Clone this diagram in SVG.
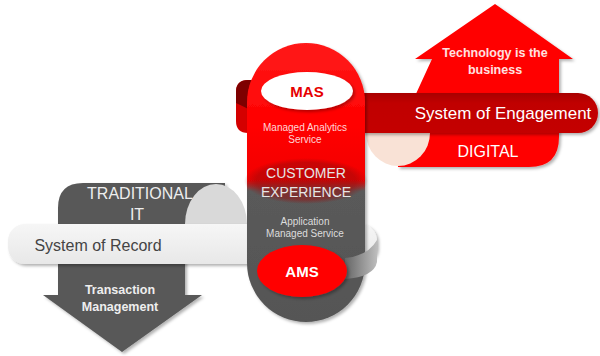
<svg xmlns="http://www.w3.org/2000/svg" width="600" height="356" viewBox="0 0 600 356">
<defs>
<filter id="sh" x="-10%" y="-10%" width="130%" height="130%">
<feDropShadow dx="2" dy="2" stdDeviation="1.8" flood-color="#000" flood-opacity="0.3"/>
</filter>
<linearGradient id="pillG" x1="0" y1="43" x2="0" y2="322" gradientUnits="userSpaceOnUse">
<stop offset="0" stop-color="#ff1a1a"/>
<stop offset="0.3" stop-color="#ff0000"/>
<stop offset="0.49" stop-color="#f20000"/>
<stop offset="0.53" stop-color="#5a5a5a"/>
<stop offset="1" stop-color="#555555"/>
</linearGradient>
<radialGradient id="ceG" cx="0.5" cy="0.5" r="0.5">
<stop offset="0" stop-color="#9a0a0a" stop-opacity="0.55"/>
<stop offset="0.8" stop-color="#9a0a0a" stop-opacity="0.5"/>
<stop offset="1" stop-color="#9a0a0a" stop-opacity="0"/>
</radialGradient>
<linearGradient id="soeG" x1="0" y1="0" x2="0" y2="1">
<stop offset="0" stop-color="#a80000"/>
<stop offset="0.25" stop-color="#c00000"/>
<stop offset="1" stop-color="#c40000"/>
</linearGradient>
<linearGradient id="sorG" x1="0" y1="0" x2="0" y2="1">
<stop offset="0" stop-color="#f6f6f6"/>
<stop offset="1" stop-color="#e8e8e8"/>
</linearGradient>
<linearGradient id="curlG" x1="0" y1="0" x2="1" y2="0">
<stop offset="0" stop-color="#666"/>
<stop offset="0.6" stop-color="#9a9a9a"/>
<stop offset="1" stop-color="#bdbdbd"/>
</linearGradient>
<style>
text{font-family:"Liberation Sans",Arial,sans-serif;text-anchor:middle}
.w{fill:#ffffff}
.pk{fill:#ffe0e0}
.lg{fill:#e6e6e6}
</style>
</defs>

<g id="digital">
<path d="M432 59 L415 59 L495 4 L573 59 L559 59 L559 137 Q559 167 529 167 L398 167 L398 133 Z" fill="#ff0000" filter="url(#sh)"/>
<path d="M366 133 L430 133 A32 33 0 0 1 366 133 Z" fill="#f9e2d6"/>
<rect id="soe-band" x="300" y="93" width="298" height="40" rx="20" fill="url(#soeG)" filter="url(#sh)"/>
<text x="495" y="57" font-size="12.5" font-weight="bold" class="pk">Technology is the</text>
<text x="495" y="74" font-size="12.5" font-weight="bold" class="pk">business</text>
<text x="503" y="119" font-size="17" class="w">System of Engagement</text>
<text x="488" y="157" font-size="16" class="w">DIGITAL</text>
</g>

<g id="traditional">
<path d="M58 208 Q58 183 83 183 L225 183 L225 230 L185 230 L185 295 L202 295 L122 352 L43 295 L58 295 Z" fill="#595959" filter="url(#sh)"/>
<path d="M185 224 A31 40 0 0 1 247 224 Z" fill="#d9d9d9"/>
<rect id="sor-band" x="8" y="224" width="369" height="40" rx="17" fill="url(#sorG)" filter="url(#sh)"/>
<text x="140" y="199" font-size="16" fill="#eeeeee">TRADITIONAL</text>
<text x="137" y="220" font-size="16" fill="#eeeeee">IT</text>
<text x="98" y="251" font-size="16" fill="#444444">System of Record</text>
<text x="120" y="294" font-size="12.5" font-weight="bold" fill="#eeeeee">Transaction</text>
<text x="120" y="311" font-size="12.5" font-weight="bold" fill="#eeeeee">Management</text>
</g>

<g id="red-curl">
<path d="M262 80 L248 80 Q236 80 236 92 L236 121 Q236 133 248 133 L262 133 Z" fill="#d40000"/>
<path d="M262 80 L248 80 Q236 80 236 92 L236 103 Q248 108 262 118 Z" fill="#7d0000"/>
</g>

<g id="pill">
<path d="M247 102 A59 59 0 0 1 365 102 L365 263 A59 59 0 0 1 247 263 Z" fill="url(#pillG)" filter="url(#sh)"/>
</g>

<g id="customer-experience">
<ellipse cx="306" cy="181" rx="62" ry="23" fill="url(#ceG)"/>
<text x="306" y="178" font-size="14" class="lg">CUSTOMER</text>
<text x="306" y="197" font-size="14" class="lg">EXPERIENCE</text>
</g>

<g id="mas">
<ellipse cx="307" cy="91" rx="46" ry="19" fill="#ffffff" filter="url(#sh)"/>
<text x="307" y="97" font-size="15" font-weight="bold" fill="#e60000">MAS</text>
<text x="305" y="131" font-size="10" fill="#ffd6d6">Managed Analytics</text>
<text x="305" y="143" font-size="10" fill="#ffd6d6">Service</text>
</g>

<g id="ams">
<path d="M345 258 Q368 256 377 240 L377 262 Q374 277 345 279 Z" fill="url(#curlG)"/>
<ellipse cx="302" cy="271" rx="45" ry="26" fill="#ff0000" filter="url(#sh)"/>
<text x="302" y="277" font-size="15" font-weight="bold" class="w">AMS</text>
<text x="305" y="225" font-size="10" fill="#dddddd">Application</text>
<text x="305" y="237" font-size="10" fill="#dddddd">Managed Service</text>
</g>

<g id="connectors"/>
</svg>
